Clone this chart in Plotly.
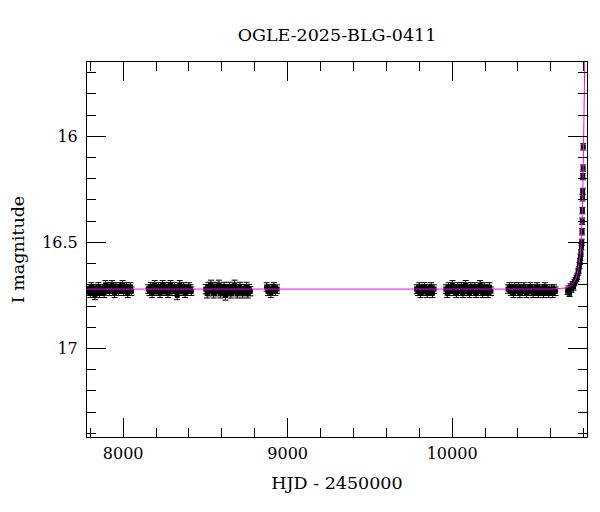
import plotly.graph_objects as go

title_text = "OGLE-2025-BLG-0411"

# Photometry: HJD - 2450000, I magnitude, error
hjd = [
    # season 1
    7786, 7793, 7800, 7807, 7814, 7821, 7828, 7835, 7842, 7849, 7856, 7863, 7870, 7877, 7884, 7892, 7900, 7908,
    7916, 7924, 7932, 7940, 7948, 7956, 7964, 7972, 7980, 7988, 7996, 8004, 8012, 8020, 8028, 8036, 8044, 8050,
    # season 2
    8152, 8160, 8168, 8176, 8184, 8192, 8200, 8208, 8216, 8224, 8232, 8240, 8248, 8256, 8264, 8272, 8280,
    8288, 8296, 8304, 8312, 8320, 8328, 8336, 8344, 8352, 8360, 8368, 8376, 8384, 8392, 8400, 8408, 8414,
    # season 3
    8502, 8510, 8518, 8526, 8534, 8542, 8550, 8558, 8566, 8574, 8582, 8590, 8598, 8606, 8614, 8622, 8630, 8638,
    8646, 8654, 8662, 8670, 8678, 8686, 8694, 8702, 8710, 8718, 8726, 8734, 8742, 8750, 8758, 8766, 8773,
    # season 4
    8872, 8880, 8889, 8898, 8907, 8916, 8925, 8936,
    # season 5
    9784, 9792, 9800, 9808, 9816, 9824, 9832, 9840, 9848, 9856, 9864, 9872, 9880, 9890,
    # season 6
    9962, 9970, 9978, 9986, 9994, 10002, 10010, 10018, 10026, 10034, 10042, 10050, 10058, 10066, 10074, 10082,
    10090, 10098, 10106, 10114, 10122, 10130, 10138, 10146, 10154, 10162, 10170, 10178, 10186, 10194, 10202,
    10210, 10218, 10226, 10236,
    # season 7
    10340, 10348, 10356, 10364, 10372, 10380, 10388, 10396, 10404, 10412, 10420, 10428, 10436, 10444, 10452,
    10460, 10468, 10476, 10484, 10492, 10500, 10508, 10516, 10524, 10532, 10540, 10548, 10556, 10564, 10572,
    10580, 10588, 10596, 10604, 10612, 10620, 10629,
    # season 8 (event)
    10702, 10708, 10714, 10720, 10726, 10732, 10738, 10744, 10750, 10756, 10761, 10766, 10770, 10774, 10777,
    10780, 10783, 10786, 10788, 10790, 10791, 10792, 10793, 10794, 10795, 10796, 10797,
]

mag = [
    16.73, 16.72, 16.74, 16.71, 16.73, 16.72, 16.75, 16.72, 16.73, 16.71, 16.74, 16.72, 16.73, 16.72, 16.74, 16.70, 16.72, 16.71,
    16.73, 16.72, 16.70, 16.72, 16.74, 16.71, 16.72, 16.73, 16.71, 16.72, 16.70, 16.73, 16.72, 16.71, 16.74, 16.72, 16.71, 16.73,
    16.72, 16.73, 16.71, 16.74, 16.72, 16.70, 16.73, 16.72, 16.71, 16.74, 16.72, 16.70, 16.73, 16.71, 16.72, 16.74, 16.71,
    16.70, 16.73, 16.72, 16.71, 16.73, 16.75, 16.72, 16.70, 16.73, 16.72, 16.71, 16.74, 16.72, 16.73, 16.71, 16.72, 16.73,
    16.72, 16.74, 16.71, 16.73, 16.70, 16.72, 16.74, 16.71, 16.73, 16.72, 16.70, 16.74, 16.72, 16.73, 16.71, 16.75, 16.72, 16.73,
    16.71, 16.74, 16.72, 16.73, 16.70, 16.72, 16.74, 16.73, 16.71, 16.72, 16.74, 16.72, 16.73, 16.71, 16.74, 16.72, 16.73,
    16.71, 16.73, 16.72, 16.74, 16.72, 16.71, 16.73, 16.72,
    16.72, 16.73, 16.71, 16.74, 16.72, 16.73, 16.71, 16.72, 16.74, 16.72, 16.73, 16.71, 16.74, 16.72,
    16.72, 16.74, 16.71, 16.73, 16.72, 16.70, 16.73, 16.72, 16.74, 16.71, 16.72, 16.73, 16.71, 16.74, 16.72, 16.70,
    16.73, 16.72, 16.74, 16.71, 16.72, 16.73, 16.71, 16.74, 16.72, 16.73, 16.70, 16.72, 16.74, 16.71, 16.73,
    16.72, 16.74, 16.71, 16.73,
    16.72, 16.71, 16.73, 16.72, 16.74, 16.71, 16.72, 16.73, 16.71, 16.74, 16.72, 16.73, 16.71, 16.72, 16.74,
    16.72, 16.73, 16.71, 16.72, 16.74, 16.72, 16.73, 16.71, 16.74, 16.72, 16.73, 16.72, 16.74, 16.71, 16.73,
    16.72, 16.74, 16.73, 16.72, 16.74, 16.72, 16.73,
    16.73, 16.72, 16.74, 16.71, 16.72, 16.70, 16.71, 16.69, 16.68, 16.67, 16.66, 16.64, 16.63, 16.61, 16.59,
    16.57, 16.55, 16.52, 16.50, 16.45, 16.40, 16.35, 16.29, 16.26, 16.19, 16.15, 16.05,
]

err = [0.02] * 36 + [0.02] * 34 + [0.022] * 35 + [0.02] * 8 + [0.02] * 14 + [0.02] * 35 + [0.02] * 37 + [0.015] * 27

# Microlensing model curve
model_hjd = [7780, 10600, 10690, 10720, 10740, 10752, 10762, 10770, 10777, 10783, 10788, 10792, 10796, 10800, 10804, 10808]
model_mag = [16.72, 16.72, 16.715, 16.705, 16.69, 16.67, 16.645, 16.61, 16.57, 16.52, 16.45, 16.35, 16.20, 16.00, 15.78, 15.55]

font_family = "DejaVu Serif"

fig = go.Figure()
fig.add_trace(go.Scatter(
    x=hjd, y=mag, mode="markers",
    marker=dict(symbol="square", size=5, color="black"),
    error_y=dict(type="data", array=err, color="black", thickness=1, width=3),
    showlegend=False,
))
fig.add_trace(go.Scatter(
    x=model_hjd, y=model_mag, mode="lines",
    line=dict(color="#ff00ff", width=1),
    showlegend=False,
))

axis_common = dict(
    showline=True, linecolor="black", linewidth=1, mirror="allticks",
    ticks="inside", ticklen=19, tickwidth=1, tickcolor="black",
    showgrid=False, zeroline=False,
    tickfont=dict(family=font_family, size=16, color="black"),
)

fig.update_xaxes(
    range=[7780, 10820], tickvals=[8000, 9000, 10000], ticktext=["8000", "9000", "10000"],
    minor=dict(ticks="inside", ticklen=9, dtick=200, tick0=0, tickcolor="black", tickwidth=1, showgrid=False),
    title=dict(text="HJD - 2450000", font=dict(family=font_family, size=17.5, color="black"), standoff=14),
    ticklabelstandoff=2,
    **axis_common,
)
fig.update_yaxes(
    range=[17.417, 15.65], tickvals=[16, 16.5, 17], ticktext=["16", "16.5", "17"],
    minor=dict(ticks="inside", ticklen=9, dtick=0.1, tick0=0, tickcolor="black", tickwidth=1, showgrid=False),
    title=dict(text="I magnitude", font=dict(family=font_family, size=17.5, color="black"), standoff=20),
    ticklabelstandoff=5,
    **axis_common,
)

fig.update_layout(
    width=592, height=504,
    margin=dict(l=79, r=13, t=54, b=75, autoexpand=False),
    paper_bgcolor="white", plot_bgcolor="white",
    title=dict(text=title_text, x=0.5557, xanchor="center", y=0.946, yanchor="middle",
               font=dict(family=font_family, size=17.5, color="black")),
)

fig.write_html("out.html")
